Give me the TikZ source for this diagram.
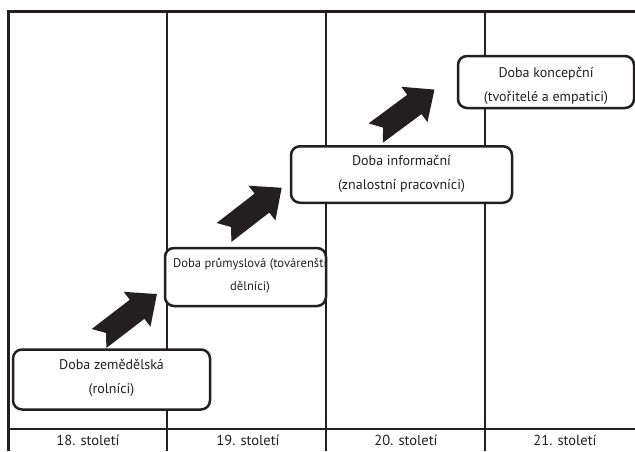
\documentclass[tikz,border=0pt]{standalone}
\usepackage{fontspec}
\setmainfont{PT Sans}
\definecolor{ink}{HTML}{231F20}
\begin{document}
\begin{tikzpicture}[x=1pt,y=-1pt,
  frame/.style={draw=ink,line width=3pt},
  grid/.style={draw=ink,line width=2pt},
  era/.style={draw=ink,fill=white,line width=2.5pt,rounded corners=9pt,inner sep=0pt},
  eratext/.style={align=center,inner sep=0pt,text=ink,font=\fontsize{14}{23.5}\selectfont},
  century/.style={font=\fontsize{14.5}{16}\selectfont,text=ink,inner sep=0pt},
  fatarrow/.pic={\fill[ink] (0,-12) -- (48,-12) -- (48,-22) -- (73,0)
     -- (48,22) -- (48,12) -- (0,12) -- (9,0) -- cycle;}]
\useasboundingbox (0,0) rectangle (635,451);
% frame and column grid
\draw[frame] (8.5,451) -- (8.5,11.5) -- (640,11.5);
\foreach \xx in {167,326,484.5} \draw[grid] (\xx,11.5) -- (\xx,451);
\draw[grid] (8.5,429) -- (640,429);
% century labels
\node[century] (c18) at (88,440) {18. století};
\node[century] (c19) at (248,440) {19. století};
\node[century] (c20) at (406,440) {20. století};
\node[century] (c21) at (565,440) {21. století};
% era boxes
\node[era,minimum width=197pt,minimum height=60pt] (e1) at (111.5,379.5) {};
\node[era,minimum width=161pt,minimum height=58pt] (e2) at (245.5,277) {};
\node[era,minimum width=221pt,minimum height=56.5pt] (e3) at (401.5,174.5) {};
\node[era,minimum width=176pt,minimum height=52pt] (e4) at (546,82) {};
% era captions
\node[eratext] (t1) at (111.5,378) {Doba zemědělská\\(rolníci)};
\node[eratext,font=\fontsize{12.6}{23}\selectfont] (t2) at (250,275.5)
  {Doba průmyslová (továrenští\\dělníci)};
\node[eratext] (t3) at (401.5,174) {Doba informační\\(znalostní pracovníci)};
\node[eratext] (t4) at (546,86) {Doba koncepční\\(tvořitelé a empatici)};
% block arrows between eras
\coordinate (a1) at (99,338.5);
\coordinate (a2) at (224,232.5);
\coordinate (a3) at (375.8,133);
\pic[rotate=37.5] at (a1) {fatarrow};
\pic[rotate=37.8] at (a2) {fatarrow};
\pic[rotate=36.5] at (a3) {fatarrow};
\end{tikzpicture}
\end{document}
